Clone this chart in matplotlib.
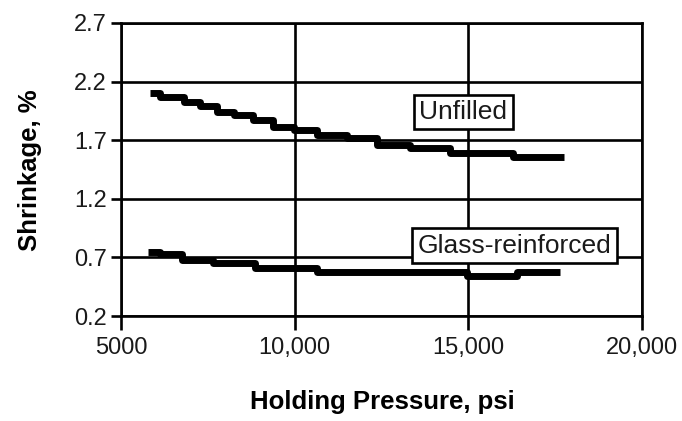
import matplotlib
matplotlib.use('Agg')
import matplotlib.pyplot as plt

matplotlib.rc('font', family='Liberation Sans')

# step curves (pressure in psi, shrinkage in %)
unfilled_p = [5840, 6120, 6800, 7280, 7760, 8240, 8810, 9390, 9970, 10640,
              11500, 12370, 13330, 14480, 16300, 17750]
unfilled_s = [2.10, 2.07, 2.03, 1.99, 1.94, 1.915, 1.87, 1.815, 1.79, 1.745,
              1.715, 1.66, 1.63, 1.59, 1.555, 1.555]

glass_p = [5790, 6120, 6750, 7660, 8860, 10640, 14960, 16400, 17650]
glass_s = [0.75, 0.73, 0.68, 0.65, 0.61, 0.575, 0.54, 0.575, 0.575]

x_ticks = [5000, 10000, 15000, 20000]
x_labels = ['5000', '10,000', '15,000', '20,000']
y_ticks = [0.2, 0.7, 1.2, 1.7, 2.2, 2.7]
y_labels = ['0.2', '0.7', '1.2', '1.7', '2.2', '2.7']

fig = plt.figure(figsize=(6.82, 4.21), dpi=100)
ax = fig.add_axes([0.1774, 0.2494, 0.7639, 0.696])

ax.plot(unfilled_p, unfilled_s, color='black', lw=5, drawstyle='steps-post',
        solid_capstyle='butt', zorder=3)
ax.plot(glass_p, glass_s, color='black', lw=5, drawstyle='steps-post',
        solid_capstyle='butt', zorder=3)

ax.set_xlim(5000, 20000)
ax.set_ylim(0.2, 2.7)
ax.set_xticks(x_ticks)
ax.set_xticklabels(x_labels)
ax.set_yticks(y_ticks)
ax.set_yticklabels(y_labels)

ax.grid(True, color='black', lw=1.9)
ax.set_axisbelow(True)
for s in ax.spines.values():
    s.set_linewidth(1.9)
ax.tick_params(axis='x', length=10, width=1.9, pad=5, labelsize=17, labelcolor='#1a1a1a')
ax.tick_params(axis='y', length=7, width=1.9, pad=3, labelsize=17, labelcolor='#1a1a1a')

box = dict(boxstyle='square,pad=0.2', facecolor='white', edgecolor='black', lw=1.9)
ax.text(14856, 1.94, 'Unfilled', ha='center', va='center', fontsize=19,
        color='#1a1a1a', bbox=box, zorder=4)
ax.text(16326, 0.80, 'Glass-reinforced', ha='center', va='center', fontsize=19,
        color='#1a1a1a', bbox=box, zorder=4)

fig.text(382 / 682, 1 - 402 / 421, 'Holding Pressure, psi', ha='center', va='center',
         fontsize=18.5, fontweight='bold')
fig.text(30 / 682, 1 - 170 / 421, 'Shrinkage, %', ha='center', va='center',
         rotation=90, fontsize=18.5, fontweight='bold')

fig.savefig('out.png', dpi=100)
